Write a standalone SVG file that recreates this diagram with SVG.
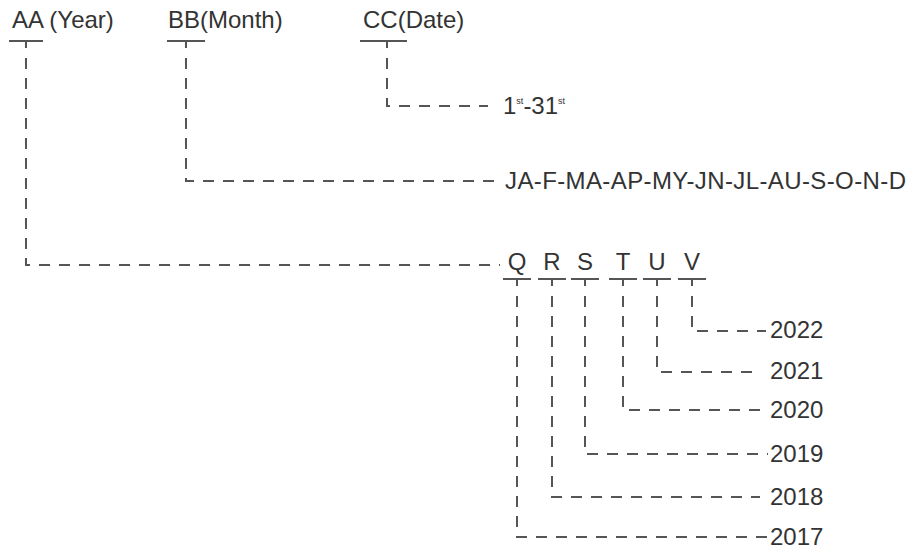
<svg xmlns="http://www.w3.org/2000/svg" width="914" height="550" viewBox="0 0 914 550">
<style>
text{font-family:"Liberation Sans",Arial,sans-serif;font-size:24px;fill:#333}
.bar{stroke:#555;stroke-width:2;fill:none}
.d{stroke:#555;stroke-width:2;fill:none;stroke-dasharray:11 9}
</style>
<rect width="914" height="550" fill="#fff"/>
<g id="aa"><text x="12" y="28">AA (Year)</text><line class="bar" x1="9" y1="41" x2="43" y2="41"/></g>
<g id="bb"><text x="168" y="28">BB(Month)</text><line class="bar" x1="167" y1="41" x2="205" y2="41"/></g>
<g id="cc"><text x="363" y="28">CC(Date)</text><line class="bar" x1="360" y1="41" x2="407" y2="41"/></g>
<g id="date"><text x="503" y="114">1<tspan font-size="9" dy="-10">st</tspan><tspan dy="10">-31</tspan><tspan font-size="9" dy="-10">st</tspan></text></g>
<g id="month"><text x="505" y="189" textLength="401">JA-F-MA-AP-MY-JN-JL-AU-S-O-N-D</text></g>
<g id="q"><text x="517" y="270" text-anchor="middle">Q</text><line class="bar" x1="503" y1="279" x2="531" y2="279"/></g>
<g id="r"><text x="552" y="270" text-anchor="middle">R</text><line class="bar" x1="538" y1="279" x2="566" y2="279"/></g>
<g id="s"><text x="585" y="270" text-anchor="middle">S</text><line class="bar" x1="571" y1="279" x2="599" y2="279"/></g>
<g id="t"><text x="623" y="270" text-anchor="middle">T</text><line class="bar" x1="609" y1="279" x2="637" y2="279"/></g>
<g id="u"><text x="657" y="270" text-anchor="middle">U</text><line class="bar" x1="643" y1="279" x2="671" y2="279"/></g>
<g id="v"><text x="692" y="270" text-anchor="middle">V</text><line class="bar" x1="678" y1="279" x2="706" y2="279"/></g>
<g id="y2022"><text x="770" y="338">2022</text></g>
<g id="y2021"><text x="770" y="379">2021</text></g>
<g id="y2020"><text x="770" y="418">2020</text></g>
<g id="y2019"><text x="770" y="462">2019</text></g>
<g id="y2018"><text x="770" y="505">2018</text></g>
<g id="y2017"><text x="770" y="545">2017</text></g>
<g id="connectors">
<line class="bar" x1="26" y1="41" x2="26" y2="48"/>
<path class="d" d="M26 58 V265 H500"/>
<line class="bar" x1="186" y1="41" x2="186" y2="48"/>
<path class="d" d="M186 58 V181 H496"/>
<line class="bar" x1="387" y1="41" x2="387" y2="48"/>
<path class="d" d="M387 58 V106 H488"/>
<line class="bar" x1="517" y1="279" x2="517" y2="286"/>
<path class="d" d="M517 296 V537 H768"/>
<line class="bar" x1="552" y1="279" x2="552" y2="286"/>
<path class="d" d="M552 296 V497 H760"/>
<line class="bar" x1="585" y1="279" x2="585" y2="286"/>
<path class="d" d="M585 296 V454 H768"/>
<line class="bar" x1="623" y1="279" x2="623" y2="286"/>
<path class="d" d="M623 296 V410 H768"/>
<line class="bar" x1="657" y1="279" x2="657" y2="286"/>
<path class="d" d="M657 296 V372 H758"/>
<line class="bar" x1="692" y1="279" x2="692" y2="286"/>
<path class="d" d="M692 296 V331 H766"/>
</g>
</svg>
